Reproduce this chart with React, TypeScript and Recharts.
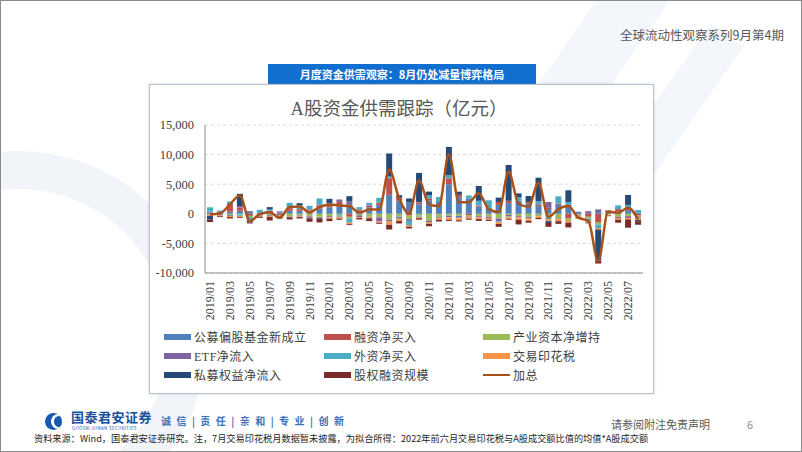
import React from "react";
import { ComposedChart, Bar, Line, XAxis, YAxis, CartesianGrid } from "recharts";

// 月度 A股资金供需 (亿元)
const months = [
  "2019/01", "2019/02", "2019/03", "2019/04", "2019/05", "2019/06", "2019/07", "2019/08", "2019/09", "2019/10", "2019/11", "2019/12",
  "2020/01", "2020/02", "2020/03", "2020/04", "2020/05", "2020/06", "2020/07", "2020/08", "2020/09", "2020/10", "2020/11", "2020/12",
  "2021/01", "2021/02", "2021/03", "2021/04", "2021/05", "2021/06", "2021/07", "2021/08", "2021/09", "2021/10", "2021/11", "2021/12",
  "2022/01", "2022/02", "2022/03", "2022/04", "2022/05", "2022/06", "2022/07", "2022/08",
];

const fundIssue = [
  250, 150, 350, 500, 300, 250, 300, 200, 500, 500, 550, 900,
  1100, 1200, 1500, 500, 1100, 1500, 3200, 2200, 2000, 1600, 2300, 2000,
  5000, 2800, 2600, 1200, 1000, 1500, 1800, 2200, 1800, 1300, 800, 1500,
  1200, 350, 0, 300, 300, 400, 600, 150,
];
const marginBuy = [
  -100, 150, 1300, 600, -350, -100, 200, -200, 450, 300, 200, 500,
  400, 800, -500, 250, 300, 400, 2800, 500, -300, 300, 300, -100,
  1000, 400, -200, 200, -100, 500, 400, -100, 200, 300, 200, 200,
  -800, -100, -500, -1500, 290, 400, 300, -300,
];
const insiderNet = [
  -100, -100, -200, -150, -200, -200, -250, -150, -400, -300, -350, -500,
  -400, -250, -300, -250, -500, -600, -1000, -500, -600, -300, -1200, -500,
  -300, -350, -200, -400, -400, -800, -200, -300, -500, -300, -600, -800,
  -400, -200, -300, -300, -100, -500, -400, -300,
];
const etfFlow = [
  150, -200, -150, 200, 150, -80, -150, 250, 100, -150, -150, 200,
  -200, 420, 600, -300, 100, -700, -300, -200, -300, 100, -200, -100,
  -300, -300, -100, -200, -200, -500, -200, -200, -200, -100, 1000, -100,
  400, -100, 450, 450, 0, -200, -300, -200,
];
const northBuy = [
  700, 260, 430, -200, -500, 430, 230, -150, 810, 600, 600, 990,
  330, -250, -700, 380, 360, 800, 300, -150, -700, -200, 500, 850,
  500, -100, 500, 800, 1280, -100, -100, 600, -100, 500, -300, 1250,
  400, 0, -400, -600, 0, 630, 600, 490,
];
const stampTax = [
  -130, -110, -200, -180, -130, -100, -110, -120, -110, -100, -120, -140,
  -200, -300, -260, -170, -170, -200, -550, -380, -280, -250, -300, -300,
  -400, -350, -300, -300, -300, -300, -350, -400, -400, -300, -350, -350,
  -300, -250, -250, -250, -200, -300, -250, -250,
];
const privateEq = [
  -650, 0, 0, 2080, -300, 0, 400, 0, -150, 400, -150, -200,
  700, 0, 880, 0, -100, 0, 3890, 450, 590, 4900, 650, 0,
  4800, 540, 0, 2500, 0, 730, 6050, 650, 1000, 4000, -300, 0,
  1970, 0, 0, -5250, 0, 0, 1680, -200,
];
const equityFin = [
  -420, -150, -240, -150, -150, -200, -620, -170, -300, -240, -580, -620,
  -440, -210, -150, -240, -470, -190, -800, -400, -300, -250, -400, -300,
  -200, -200, -200, -300, -200, -500, -150, -800, -300, -200, -650, -450,
  -800, -150, -150, -500, -100, -500, -1400, -600,
];
const totalFlow = [
  -100, 50, 1580, 3100, -1240, -50, 280, -680, 1130, 1240, 230, 1130,
  1580, 1410, 1300, 170, 730, 730, 7490, 2600, 50, 5630, 1600, 1300,
  10050, 1970, 1950, 3460, 790, 300, 7100, 1700, 1200, 5250, -540, 800,
  1320, -650, -1200, -8000, 350, 190, 1030, -930,
];

const yTicks = [-10000, -5000, 0, 5000, 10000, 15000];

const SERIES = [
  { key: "fund", name: "公募偏股基金新成立", color: "#4F81BD", values: fundIssue },
  { key: "margin", name: "融资净买入", color: "#C0504D", values: marginBuy },
  { key: "insider", name: "产业资本净增持", color: "#9BBB59", values: insiderNet },
  { key: "etf", name: "ETF净流入", color: "#8064A2", values: etfFlow },
  { key: "north", name: "外资净买入", color: "#4BACC6", values: northBuy },
  { key: "stamp", name: "交易印花税", color: "#F79646", values: stampTax },
  { key: "pe", name: "私募权益净流入", color: "#264A78", values: privateEq },
  { key: "ipo", name: "股权融资规模", color: "#7A2B29", values: equityFin },
];
const LINE_COLOR = "#A8521A";

const rows = months.map((m, i) => {
  const r: any = { month: m, total: totalFlow[i] };
  SERIES.forEach((s) => (r[s.key] = s.values[i]));
  return r;
});

const SERIF = '"Liberation Serif", "Times New Roman", "Noto Sans CJK SC", serif';
const SANS = '"Noto Sans CJK SC", "Noto Sans", sans-serif';
const FRAME = "#8C8C8C";

const MonthTick = (props: any) => {
  const { x, y, payload } = props;
  return (
    <g transform={`translate(${x},${y})`}>
      <text x={0} y={0} dy={4} transform="rotate(-90)" textAnchor="end" fontSize={12} fill="#404040" fontFamily={SERIF}>
        {payload.value}
      </text>
    </g>
  );
};

const legendItems = [
  ...SERIES.map((s) => ({ name: s.name, color: s.color, line: false })),
  { name: "加总", color: LINE_COLOR, line: true },
];
const legendCols = [163, 323, 482];
const legendRows = [336, 355, 374];

export default function App() {
  return (
    <div
      style={{
        position: "absolute",
        left: 0,
        top: 0,
        width: 802,
        height: 452,
        boxSizing: "border-box",
        border: "1px solid #8a8a8a",
        background: "#fff",
        overflow: "hidden",
        fontFamily: SANS,
      }}
    >
      {/* faint background decoration */}
      <div style={{ position: "absolute", left: -170, top: 150, width: 300, height: 300, borderRadius: "50%", border: "38px solid #F1F5FA" }} />
      <div style={{ position: "absolute", left: 560, top: -40, width: 60, height: 200, background: "#F3F6FA", transform: "rotate(35deg)" }} />
      <div style={{ position: "absolute", left: 660, top: 20, width: 40, height: 160, background: "#F3F6FA", transform: "rotate(35deg)" }} />

      <div style={{ position: "absolute", right: 17, top: 24, fontSize: 12.5, color: "#595959", lineHeight: "19px" }}>
        全球流动性观察系列9月第4期
      </div>

      <div
        style={{
          position: "absolute",
          left: 267,
          top: 63,
          width: 268,
          height: 20,
          background: "#1170CF",
          color: "#fff",
          fontSize: 11,
          fontWeight: 700,
          lineHeight: "20px",
          textAlign: "center",
        }}
      >
        月度资金供需观察：8月仍处减量博弈格局
      </div>

      <div
        style={{
          position: "absolute",
          left: 148,
          top: 83,
          width: 505,
          height: 310,
          boxSizing: "border-box",
          border: "1px solid #B7C2CE",
          background: "#fff",
          boxShadow: "0 0 3px rgba(120,140,160,0.35)",
        }}
      />
      <div
        style={{
          position: "absolute",
          left: 148,
          top: 97,
          width: 500,
          textAlign: "center",
          fontSize: 18.5,
          color: "#595959",
          lineHeight: "22px",
          fontFamily: SERIF,
        }}
      >
        A股资金供需跟踪（亿元）
      </div>

      <div style={{ position: "absolute", left: 148, top: 83 }}>
        <ComposedChart
          width={505}
          height={250}
          data={rows}
          stackOffset="sign"
          barSize={6}
          margin={{ top: 41, right: 11, bottom: 9, left: 0 }}
        >
          <CartesianGrid vertical={false} stroke="#D9D9D9" strokeDasharray="3 3" />
          <XAxis
            dataKey="month"
            interval={1}
            tick={(p: any) => <MonthTick {...p} />}
            tickLine={false}
            axisLine={{ stroke: FRAME }}
            height={52}
          />
          <XAxis xAxisId="top" orientation="top" dataKey="month" tick={false} tickLine={false} axisLine={{ stroke: FRAME }} height={0} />
          <YAxis
            domain={[-10000, 15000]}
            ticks={yTicks}
            tickFormatter={(v: number) => v.toLocaleString("en-US")}
            width={56}
            tickLine={false}
            tickMargin={5}
            axisLine={{ stroke: FRAME }}
            tick={{ fontSize: 12.5, fill: "#404040", fontFamily: SERIF }}
          />
          <YAxis yAxisId="right" orientation="right" domain={[0, 1]} tick={false} tickLine={false} axisLine={{ stroke: FRAME }} width={0} />
          {SERIES.map((s) => (
            <Bar key={s.key} dataKey={s.key} name={s.name} stackId="a" fill={s.color} isAnimationActive={false} />
          ))}
          <Line
            dataKey="total"
            name="加总"
            type="monotone"
            stroke={LINE_COLOR}
            strokeWidth={2.5}
            dot={false}
            isAnimationActive={false}
          />
        </ComposedChart>
      </div>

      {legendItems.map((it, k) => {
        const x = legendCols[k % 3];
        const y = legendRows[Math.floor(k / 3)];
        return (
          <div key={it.name} style={{ position: "absolute", left: x, top: y - 9, height: 18, display: "flex", alignItems: "center" }}>
            <div style={{ width: 27, height: it.line ? 2 : 6, background: it.color, marginRight: 3 }} />
            <span style={{ fontSize: 12, color: "#404040", fontFamily: SERIF, letterSpacing: 0.5 }}>{it.name}</span>
          </div>
        );
      })}

      {/* footer */}
      <div style={{ position: "absolute", left: 44, top: 412, width: 17, height: 17, borderRadius: "50%", background: "#1559B0", overflow: "hidden" }}>
        <div style={{ position: "absolute", left: 6, top: 1, width: 14, height: 15, borderRadius: "50%", background: "#fff" }} />
        <div style={{ position: "absolute", left: 9, top: 3, width: 10, height: 11, borderRadius: "50%", background: "#1559B0" }} />
      </div>
      <div style={{ position: "absolute", left: 70, top: 409, fontSize: 13, fontWeight: 700, color: "#1B4F9C", lineHeight: "14px", letterSpacing: 0.5 }}>
        国泰君安证券
      </div>
      <div style={{ position: "absolute", left: 71, top: 425, fontSize: 4.5, color: "#1B4F9C", lineHeight: "5px", letterSpacing: 0.3 }}>
        GUOTAI JUNAN SECURITIES
      </div>
      <div style={{ position: "absolute", left: 160, top: 413, fontSize: 10, fontWeight: 700, color: "#3D72BA", lineHeight: "14px", letterSpacing: 1.6 }}>
        诚 信 | 责 任 | 亲 和 | 专 业 | 创 新
      </div>
      <div style={{ position: "absolute", left: 610, top: 416, fontSize: 11, color: "#595959", lineHeight: "15px" }}>
        请参阅附注免责声明
      </div>
      <div style={{ position: "absolute", left: 746, top: 416, fontSize: 11, color: "#8C8C8C", lineHeight: "15px" }}>6</div>
      <div style={{ position: "absolute", left: 33, top: 431, fontSize: 9.2, color: "#262626", lineHeight: "12px", whiteSpace: "nowrap" }}>
        资料来源：Wind，国泰君安证券研究。注，7月交易印花税月数据暂未披露，为拟合所得：2022年前六月交易印花税与A股成交额比值的均值*A股成交额
      </div>
    </div>
  );
}
